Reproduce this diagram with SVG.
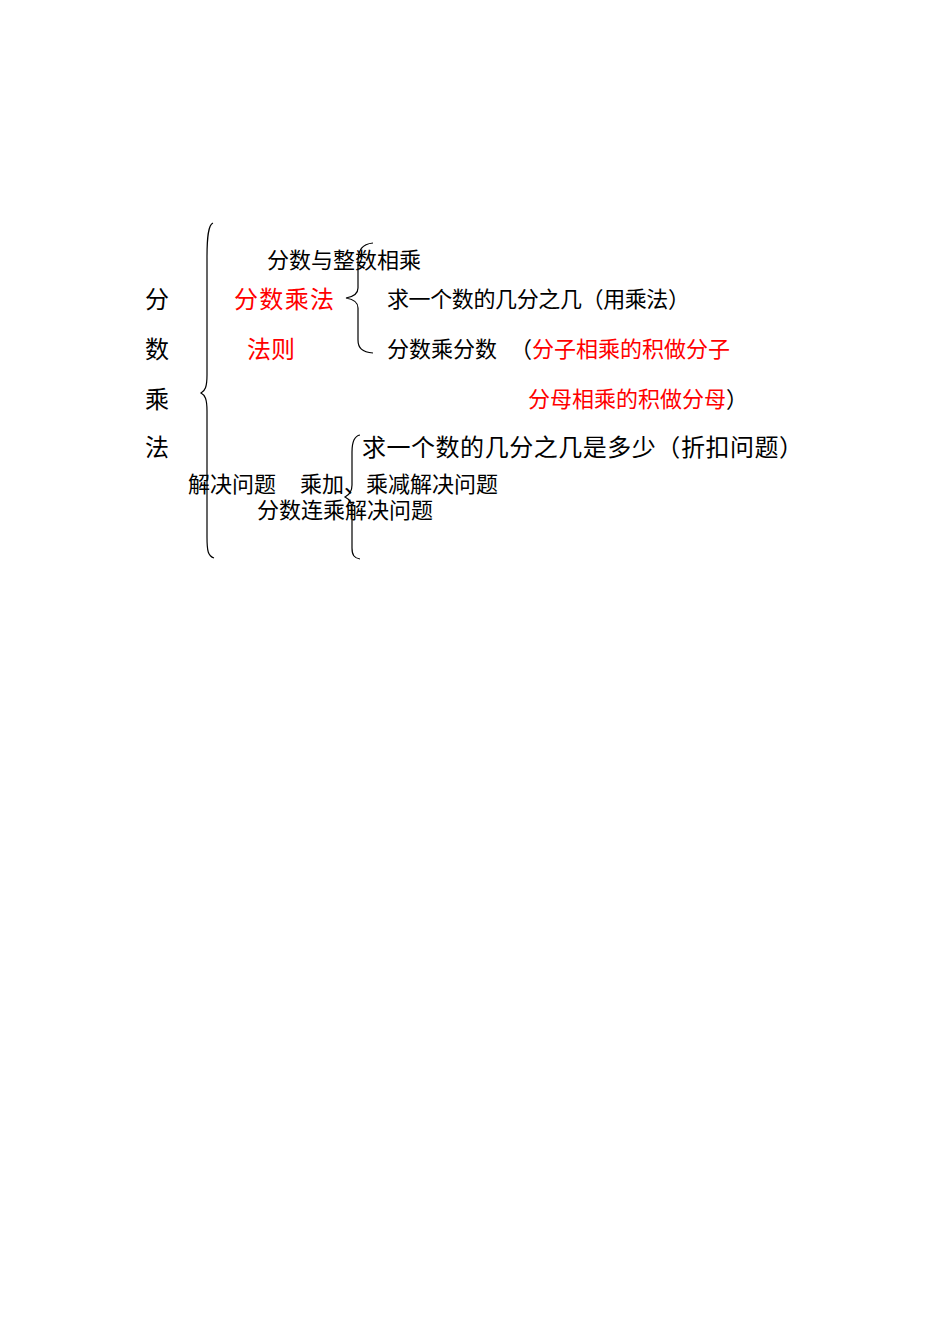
<svg xmlns="http://www.w3.org/2000/svg" width="950" height="1344" viewBox="0 0 950 1344">
<style>
text{font-family:"Noto Sans CJK SC","Noto Sans",sans-serif;font-size:22px;fill:#000}
.r{fill:#ff0000}
.big{font-size:24px}
.brace{fill:none;stroke:#000;stroke-width:1.2}
</style>
<rect width="950" height="1344" fill="#fff"/>
<g id="connectors">
<path class="brace" d="M213,223 C208,225 207,238 207,258 L207,375 C207,387 205,391 201,393 C205,395 207,399 207,411 L207,537 C207,551 208,556 214,558"/>
<path class="brace" d="M373,243 C362,244 358,250 358,262 L358,288 C358,294 352,297 346,298 C352,299 358,302 358,308 L358,340 C358,348 362,352 373,353"/>
<path class="brace" d="M360,435 C354,436 352,442 352,452 L352,485 C352,492 349,495 345,497 C349,499 352,502 352,509 L352,548 C352,555 354,558 360,559"/>
</g>
<g id="root">
<text class="big" x="145" y="308">分</text>
<text class="big" x="145" y="358">数</text>
<text class="big" x="145" y="408">乘</text>
<text class="big" x="145" y="456">法</text>
</g>
<g id="n-zhengshu"><text x="267" y="268">分数与整数相乘</text></g>
<g id="n-faze">
<text class="r big" x="234" y="308" textLength="100">分数乘法</text>
<text class="r big" x="247" y="358">法则</text>
</g>
<g id="n-qiu"><text x="387" y="307" textLength="303">求一个数的几分之几（用乘法）</text></g>
<g id="n-fenshu">
<text x="387" y="357">分数乘分数</text>
<text x="510" y="357">（</text>
<text class="r" x="532" y="357">分子相乘的积做分子</text>
<text class="r" x="528" y="407">分母相乘的积做分母</text>
<text x="726" y="407">）</text>
</g>
<g id="n-jiejue"><text x="188" y="492">解决问题</text></g>
<g id="n-zhekou"><text class="big" x="362" y="456" textLength="441">求一个数的几分之几是多少（折扣问题）</text></g>
<g id="n-chengjia"><text x="300" y="492">乘加、乘减解决问题</text></g>
<g id="n-lianchen"><text x="257" y="518">分数连乘解决问题</text></g>
</svg>
